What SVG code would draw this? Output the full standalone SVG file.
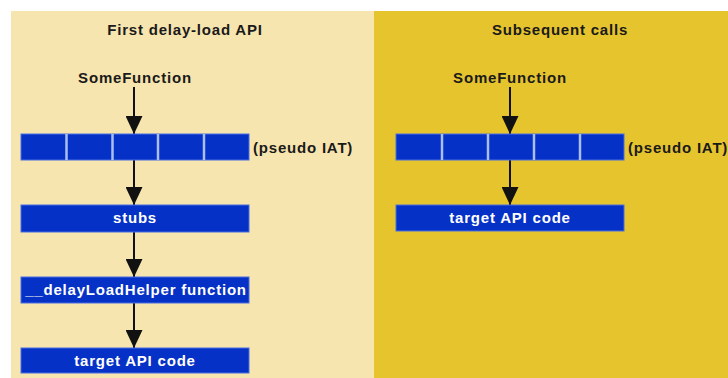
<svg xmlns="http://www.w3.org/2000/svg" width="728" height="378" viewBox="0 0 728 378">
<defs>
<style>
.t,.w,.l{font-family:"Liberation Sans",Arial,sans-serif;font-weight:bold;font-size:15px;letter-spacing:0.8px}
.t{fill:#1a1a1a;text-anchor:middle}
.w{fill:#ffffff;text-anchor:middle}
.l{fill:#1a1a1a}
.box{fill:#0531C6;stroke:#4a6ee0;stroke-width:1}
.sep{stroke:#a9bff2;stroke-width:2.5}
.c{stroke:#111;stroke-width:2;fill:none;marker-end:url(#ah)}
</style>
<marker id="ah" viewBox="0 0 18 17" refX="18" refY="8.5" markerWidth="18" markerHeight="17" markerUnits="userSpaceOnUse" orient="auto">
<path d="M0,0 L18,8.5 L0,17 Z" fill="#111"/>
</marker>
</defs>
<rect x="0" y="0" width="728" height="378" fill="#ffffff"/>
<rect id="panel-left" x="11" y="11" width="363" height="367" fill="#F7E5AF"/>
<rect id="panel-right" x="374" y="11" width="354" height="367" fill="#E6C42E"/>
<text class="t" x="185" y="35">First delay-load API</text>
<text class="t" x="560" y="35">Subsequent calls</text>
<g id="connectors">
<line class="c" x1="134" y1="87" x2="134" y2="134"/>
<line class="c" x1="134" y1="160" x2="134" y2="205"/>
<line class="c" x1="134" y1="232" x2="134" y2="277"/>
<line class="c" x1="134" y1="303" x2="134" y2="348"/>
<line class="c" x1="510" y1="87" x2="510" y2="134"/>
<line class="c" x1="510" y1="160" x2="510" y2="205"/>
</g>
<g id="somefunction-left"><text class="t" x="135" y="83">SomeFunction</text></g>
<g id="iat-left">
<rect class="box" x="21" y="134" width="228" height="26"/>
<line class="sep" x1="66.5" y1="134" x2="66.5" y2="160"/>
<line class="sep" x1="112.5" y1="134" x2="112.5" y2="160"/>
<line class="sep" x1="158" y1="134" x2="158" y2="160"/>
<line class="sep" x1="204" y1="134" x2="204" y2="160"/>
<text class="l" x="253" y="153">(pseudo IAT)</text>
</g>
<g id="stubs"><rect class="box" x="21" y="205" width="228" height="27"/><text class="w" x="135" y="223">stubs</text></g>
<g id="helper"><rect class="box" x="21" y="277" width="228" height="26"/><text class="w" x="136" y="295">__delayLoadHelper function</text></g>
<g id="target-left"><rect class="box" x="21" y="348" width="228" height="25"/><text class="w" x="135" y="366">target API code</text></g>
<g id="somefunction-right"><text class="t" x="510" y="83">SomeFunction</text></g>
<g id="iat-right">
<rect class="box" x="396" y="134" width="228" height="26"/>
<line class="sep" x1="442" y1="134" x2="442" y2="160"/>
<line class="sep" x1="488" y1="134" x2="488" y2="160"/>
<line class="sep" x1="534" y1="134" x2="534" y2="160"/>
<line class="sep" x1="580" y1="134" x2="580" y2="160"/>
<text class="l" x="628" y="153">(pseudo IAT)</text>
</g>
<g id="target-right"><rect class="box" x="396" y="205" width="228" height="26"/><text class="w" x="510" y="223">target API code</text></g>
</svg>
